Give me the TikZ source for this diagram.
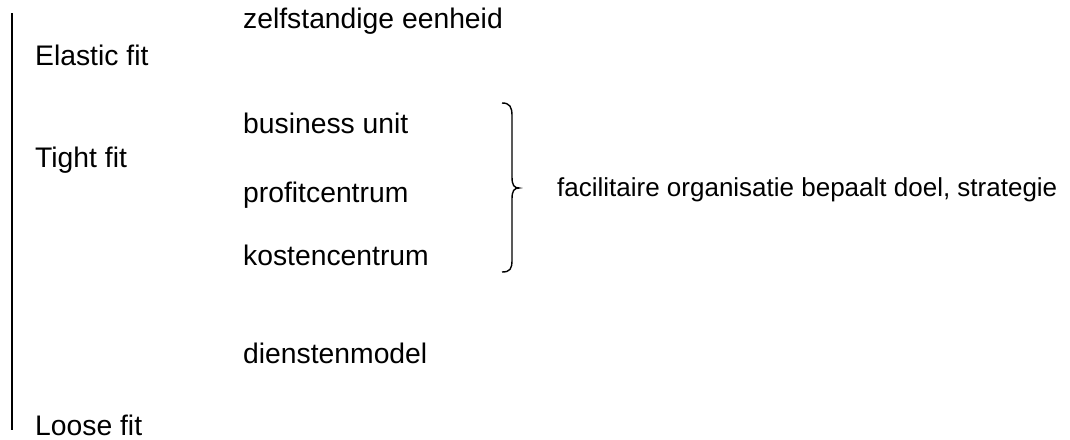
\documentclass[tikz,border=0pt]{standalone}
\usepackage{fontspec}
\setmainfont{Liberation Sans}
\begin{document}
\begin{tikzpicture}[x=1pt,y=-1pt,
  lbl/.style={anchor=base west,inner sep=0pt,font=\fontsize{28.3}{32}\selectfont},
  itm/.style={anchor=base west,inner sep=0pt,font=\fontsize{28.3}{32}\selectfont},
  note/.style={anchor=base west,inner sep=0pt,font=\fontsize{26}{30}\selectfont}]
\useasboundingbox (0,0) rectangle (1070,439);
\coordinate (ltop) at (12,13);
\coordinate (lbot) at (12,430);
\draw[line width=1.3pt] (ltop) -- (lbot);
\node[lbl] (elastic) at (35,65) {Elastic fit};
\node[lbl] (tight) at (35,167) {Tight fit};
\node[lbl] (loose) at (35,435) {Loose fit};
\node[itm] (zelf) at (243,28) {zelfstandige eenheid};
\node[itm] (bu) at (243,133) {business unit};
\node[itm] (pc) at (243,202) {profitcentrum};
\node[itm] (kc) at (243,265) {kostencentrum};
\node[itm] (dm) at (243,363) {dienstenmodel};
\node[note] (fac) at (557,196) {facilitaire organisatie bepaalt doel, strategie};
\coordinate (btop) at (502,103);
\coordinate (btip) at (519,188);
\coordinate (bbot) at (502,272);
\draw[line width=1.4pt] (btop) .. controls (510,103) and (512,107) .. (512,116)
  -- (512,177) .. controls (512,185) and (514,188) .. (btip)
  .. controls (514,188) and (512,191) .. (512,199)
  -- (512,260) .. controls (512,269) and (510,272) .. (bbot);
\end{tikzpicture}
\end{document}
